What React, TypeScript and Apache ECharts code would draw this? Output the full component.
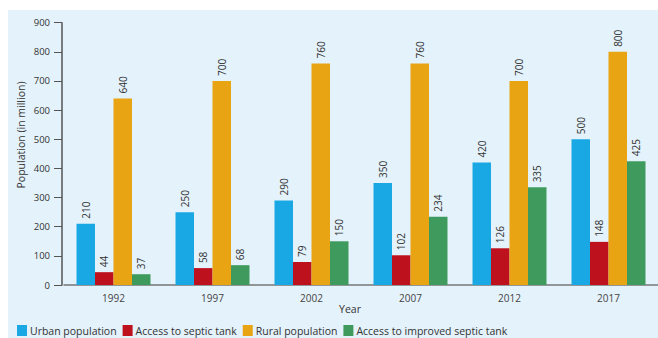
import React, { useEffect, useRef } from "react";
import * as echarts from "echarts";

const years = ["1992", "1997", "2002", "2007", "2012", "2017"];
const urbanPopulation = [210, 250, 290, 350, 420, 500];
const septicAccess = [44, 58, 79, 102, 126, 148];
const ruralPopulation = [640, 700, 760, 760, 700, 800];
const improvedSepticAccess = [37, 68, 150, 234, 335, 425];

const seriesNames = [
  "Urban population",
  "Access to septic tank",
  "Rural population",
  "Access to improved septic tank",
];
const seriesColors = ["#1aa8e4", "#bd111e", "#e8a412", "#3f9b5d"];

const FONT = "'Open Sans', 'Noto Sans', sans-serif";

export default function App() {
  const ref = useRef<HTMLDivElement>(null);

  useEffect(() => {
    if (!ref.current) return;
    const chart = echarts.init(ref.current, undefined, { renderer: "svg" });
    const datasets = [urbanPopulation, septicAccess, ruralPopulation, improvedSepticAccess];

    chart.setOption({
      animation: false,
      backgroundColor: "#ffffff",
      textStyle: { fontFamily: FONT },
      graphic: [
        {
          type: "rect",
          z: -10,
          silent: true,
          shape: { x: 8, y: 10, width: 650, height: 328 },
          style: { fill: "#e4f2fb" },
        },
        {
          type: "text",
          x: 21,
          y: 135,
          rotation: Math.PI / 2,
          style: {
            text: "Population (in million)",
            fontSize: 10.5,
            fontFamily: FONT,
            fill: "#333",
            align: "center",
            verticalAlign: "middle",
          },
        },
        {
          type: "text",
          x: 350,
          y: 309,
          style: {
            text: "Year",
            fontSize: 10.5,
            fontFamily: FONT,
            fill: "#333",
            align: "center",
            verticalAlign: "middle",
          },
        },
      ],
      legend: {
        left: 12,
        top: 320,
        icon: "rect",
        itemWidth: 10,
        itemHeight: 11,
        itemGap: 6,
        textStyle: { fontSize: 10.5, color: "#333", fontFamily: FONT, padding: [0, 0, 0, -2] },
        data: seriesNames,
      },
      grid: { left: 64, top: 22.7, bottom: 53, width: 607 },
      xAxis: {
        type: "category",
        data: years,
        axisLine: { lineStyle: { color: "#777", width: 1.5 } },
        axisTick: { show: false },
        axisLabel: { color: "#444", fontSize: 10, margin: 8, fontFamily: FONT },
      },
      yAxis: {
        type: "value",
        min: 0,
        max: 900,
        interval: 100,
        offset: 2,
        axisLine: { show: true, lineStyle: { color: "#555", width: 1.5 } },
        axisTick: { show: true, length: 8, lineStyle: { color: "#555" } },
        splitLine: { show: false },
        axisLabel: { color: "#333", fontSize: 9.5, margin: 12, fontFamily: FONT },
      },
      series: datasets.map((data, i) => ({
        name: seriesNames[i],
        type: "bar",
        data,
        barWidth: 18.5,
        barGap: "0%",
        itemStyle: { color: seriesColors[i] },
        label: {
          show: true,
          position: "top",
          rotate: 90,
          align: "left",
          verticalAlign: "middle",
          distance: 5,
          fontSize: 10,
          color: "#333",
          fontFamily: FONT,
        },
      })),
    });

    return () => chart.dispose();
  }, []);

  return (
    <div
      ref={ref}
      style={{ position: "fixed", left: 0, top: 0, width: 658, height: 338 }}
    />
  );
}
